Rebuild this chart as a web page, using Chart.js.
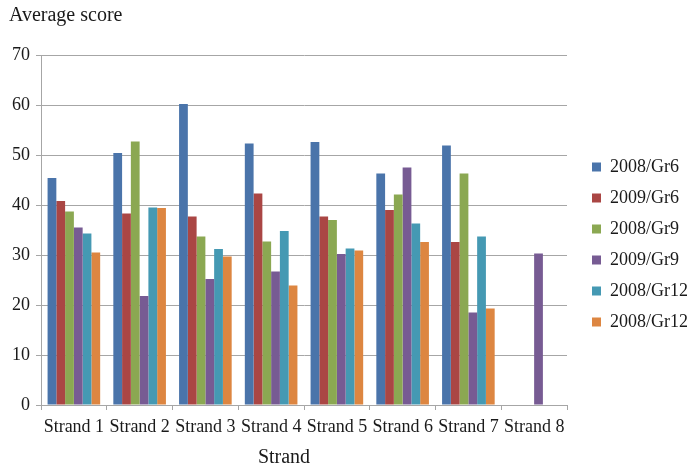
<!DOCTYPE html>
<html>
<head>
<meta charset="utf-8">
<script src="https://cdn.jsdelivr.net/npm/chart.js@4.4.1/dist/chart.umd.min.js"></script>
<style>
  html, body { margin: 0; padding: 0; background: #ffffff; }
  #wrap { width: 689px; height: 465px; position: relative; }
</style>
</head>
<body>
<div id="wrap"><canvas id="chart" width="689" height="465"></canvas></div>
<script>
// Strand categories on the x axis
const strands = ['Strand 1', 'Strand 2', 'Strand 3', 'Strand 4', 'Strand 5', 'Strand 6', 'Strand 7', 'Strand 8'];

// Average scores per cohort (null = no score reported)
const y2008Gr6  = [45.4, 50.4, 60.2, 52.3, 52.6, 46.3, 51.9, null];
const y2009Gr6  = [40.8, 38.3, 37.7, 42.3, 37.7, 39.0, 32.6, null];
const y2008Gr9  = [38.7, 52.7, 33.7, 32.7, 37.0, 42.1, 46.3, null];
const y2009Gr9  = [35.5, 21.8, 25.2, 26.7, 30.2, 47.5, 18.5, 30.3];
const y2008Gr12 = [34.3, 39.5, 31.2, 34.8, 31.3, 36.3, 33.7, null];
const y2008Gr12b = [30.5, 39.4, 29.7, 23.9, 30.9, 32.6, 19.3, null];

const seriesLabels = ['2008/Gr6', '2009/Gr6', '2008/Gr9', '2009/Gr9', '2008/Gr12', '2008/Gr12'];
const seriesData = [y2008Gr6, y2009Gr6, y2008Gr9, y2009Gr9, y2008Gr12, y2008Gr12b];
const seriesColors = ['#4A74AA', '#AA4644', '#8BA852', '#775B93', '#4599B3', '#DD8641'];

const yTicks = [0, 10, 20, 30, 40, 50, 60, 70];

const FONT = '"Liberation Serif", "Times New Roman", serif';
const AXIS_GREY = '#A6A6A6';
const TEXT = '#1a1a1a';

// Axis title drawn under the category labels
const xAxisTitle = {
  id: 'xAxisTitle',
  afterDraw(chart) {
    const ctx = chart.ctx;
    const area = chart.chartArea;
    ctx.save();
    ctx.font = '20px ' + FONT;
    ctx.fillStyle = TEXT;
    ctx.textAlign = 'center';
    ctx.textBaseline = 'middle';
    ctx.fillText('Strand', (area.left + area.right) / 2 - 20, 458);
    ctx.restore();
  }
};

// Leave a wider gap between the plot and the legend entries
const legendGap = {
  id: 'legendGap',
  afterLayout(chart) {
    const lg = chart.legend;
    if (lg) { lg.left += 12; lg.right += 12; }
  }
};

new Chart(document.getElementById('chart'), {
  type: 'bar',
  data: {
    labels: strands,
    datasets: seriesData.map((d, i) => ({
      label: seriesLabels[i],
      data: d,
      backgroundColor: seriesColors[i],
      borderWidth: 0,
      categoryPercentage: 0.8,
      barPercentage: 1.0
    }))
  },
  options: {
    responsive: false,
    animation: false,
    devicePixelRatio: 1,
    layout: { padding: { left: 9, right: 3, top: 0, bottom: 0 } },
    plugins: {
      title: {
        display: true,
        text: 'Average score',
        align: 'start',
        color: TEXT,
        font: { family: FONT, size: 20, weight: 'normal', lineHeight: 1.2 },
        padding: { top: 4, bottom: 27 }
      },
      legend: {
        position: 'right',
        title: {
          display: true,
          text: '',
          font: { size: 10, lineHeight: 1 },
          padding: { top: 14, bottom: 0 }
        },
        labels: {
          color: TEXT,
          font: { family: FONT, size: 18 },
          boxWidth: 9,
          boxHeight: 9,
          padding: 13
        }
      },
      tooltip: { enabled: false }
    },
    scales: {
      x: {
        grid: {
          offset: true,
          drawOnChartArea: false,
          drawTicks: true,
          tickLength: 5,
          color: AXIS_GREY
        },
        border: { color: AXIS_GREY },
        ticks: {
          color: TEXT,
          font: { family: FONT, size: 18 },
          maxRotation: 0,
          autoSkip: false,
          padding: 6
        },
        afterFit(scale) { scale.height = 60; }
      },
      y: {
        min: 0,
        max: 70,
        afterBuildTicks(scale) { scale.ticks = yTicks.map(v => ({ value: v })); },
        grid: { color: AXIS_GREY, tickLength: 5 },
        border: { color: AXIS_GREY },
        ticks: {
          color: TEXT,
          font: { family: FONT, size: 18 },
          padding: 6
        },
        afterFit(scale) { scale.width = 32; }
      }
    }
  },
  plugins: [xAxisTitle, legendGap]
});
</script>
</body>
</html>
